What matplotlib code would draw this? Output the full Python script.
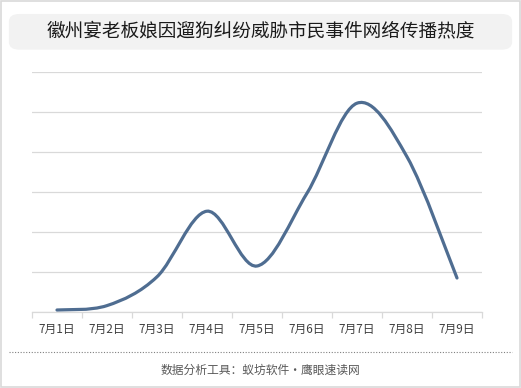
import matplotlib
matplotlib.use('Agg')
import matplotlib.pyplot as plt
from matplotlib.path import Path
from matplotlib.patches import PathPatch, FancyBboxPatch, Rectangle
import numpy as np

plt.rcParams['font.family'] = ['Noto Sans CJK SC', 'DejaVu Sans']

# data
dates = ['7月1日', '7月2日', '7月3日', '7月4日', '7月5日', '7月6日', '7月7日', '7月8日', '7月9日']
heat = [0.05, 0.16, 0.88, 2.52, 1.15, 2.97, 5.22, 3.88, 0.85]
title = '徽州宴老板娘因遛狗纠纷威胁市民事件网络传播热度'
source = '数据分析工具：蚁坊软件·鹰眼速读网'

fig = plt.figure(figsize=(5.21, 3.88), dpi=100)

# outer border
fig.patches.append(Rectangle((0.002, 0.002), 0.996, 0.996, transform=fig.transFigure,
                             fill=False, edgecolor='#d9d9d9', linewidth=1.2))
# title box
fig.patches.append(FancyBboxPatch((0.017, 0.872), 0.966, 0.092, transform=fig.transFigure,
                                  boxstyle='round,pad=0,rounding_size=0.02',
                                  facecolor='#f2f2f2', edgecolor='none'))
fig.text(0.5, 0.918, title, ha='center', va='center', fontsize=13.4, color='#1a1a1a')

ax = fig.add_axes([32 / 521, 76 / 388, 450 / 521, 240 / 388])
x = np.arange(len(dates))

# smooth line like excel: bezier through the points
verts = [(x[0], heat[0])]
codes = [Path.MOVETO]
n = len(x)
for i in range(n - 1):
    p0 = np.array([x[max(i - 1, 0)], heat[max(i - 1, 0)]])
    p1 = np.array([x[i], heat[i]])
    p2 = np.array([x[i + 1], heat[i + 1]])
    p3 = np.array([x[min(i + 2, n - 1)], heat[min(i + 2, n - 1)]])
    c1 = p1 + (p2 - p0) / 6
    c2 = p2 - (p3 - p1) / 6
    verts += [tuple(c1), tuple(c2), tuple(p2)]
    codes += [Path.CURVE4, Path.CURVE4, Path.CURVE4]
ax.add_patch(PathPatch(Path(verts, codes), fill=False, edgecolor='#4f6d91',
                       linewidth=2.3, capstyle='round', zorder=3))
ax.plot(x, heat, alpha=0)

ax.set_xlim(-0.5, n - 0.5)
ax.set_ylim(0, 6)
ax.set_yticks(range(0, 7))
ax.set_yticklabels([])
ax.tick_params(axis='y', length=0)
ax.grid(axis='y', color='#d9d9d9', linewidth=0.9)
ax.set_axisbelow(True)

ax.set_xticks(np.arange(-0.5, n, 1), minor=False)
ax.set_xticklabels([])
ax.set_xticks(x, minor=True)
ax.set_xticklabels(dates, minor=True, fontsize=8.5, color='#404040')
ax.tick_params(axis='x', which='major', length=4, color='#d9d9d9', width=0.9)
ax.tick_params(axis='x', which='minor', length=0, pad=8)

for s in ['top', 'right', 'left']:
    ax.spines[s].set_visible(False)
ax.spines['bottom'].set_color('#d9d9d9')
ax.spines['bottom'].set_linewidth(0.9)

# footer
fig.add_artist(plt.Line2D([0.017, 0.983], [1 - 352 / 388] * 2, transform=fig.transFigure,
                          color='#808080', linewidth=0.8, linestyle=(0, (1, 1.5))))
fig.text(0.5, 1 - 370 / 388, source, ha='center', va='center', fontsize=8.5, color='#595959')

fig.savefig('out.png', dpi=100)
